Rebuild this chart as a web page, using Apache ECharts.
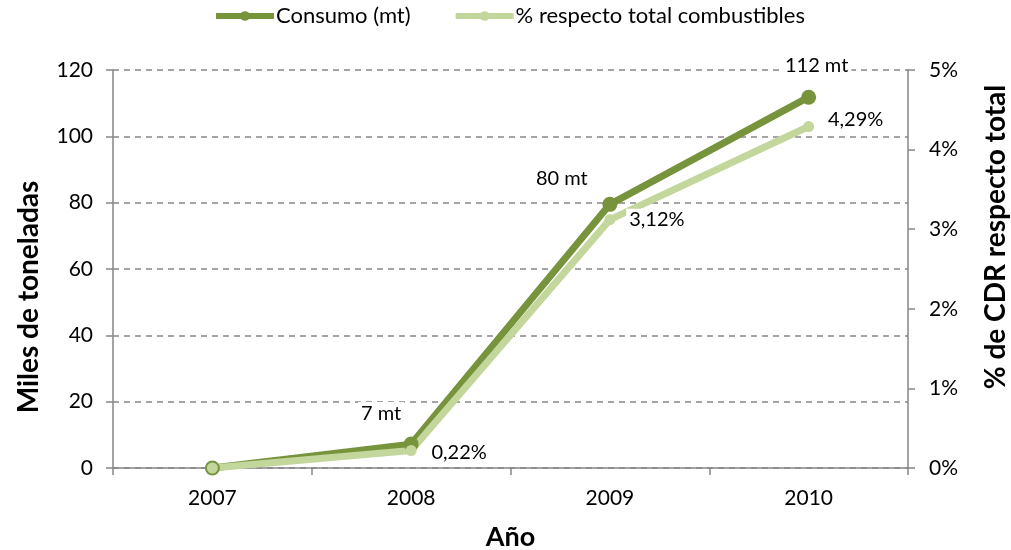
<!DOCTYPE html>
<html>
<head>
<meta charset="utf-8">
<script src="https://cdn.jsdelivr.net/npm/echarts@6/dist/echarts.min.js"></script>
<style>html,body{margin:0;padding:0;background:#fff;overflow:hidden}#c{width:1011px;height:550px}</style>
</head>
<body>
<div id="c"></div>
<script>
const categories = ['2007', '2008', '2009', '2010'];
const consumo = [0, 7.2, 79.5, 111.8];
const consumoLabels = ['', '7 mt', '80 mt', '112 mt'];
const porcentaje = [0, 0.22, 3.12, 4.29];
const porcentajeLabels = ['', '0,22%', '3,12%', '4,29%'];
const leftTicks = [0, 20, 40, 60, 80, 100, 120];
const rightTicks = ['0%', '1%', '2%', '3%', '4%', '5%'];

const FONT = 'Lato';
const DARK = '#77933C';
const LIGHT = '#C3D69B';
const consumoOffsets = [[0, 0], [-30, -31], [-48, -26], [8, -32]];
const pctOffsets = [[0, 0], [48, 2], [47, 0], [47, -7]];

const labelBase = {
  show: true, position: 'inside', color: '#000', fontFamily: FONT, fontSize: 20,
  backgroundColor: '#fff', padding: [1, 3]
};

const chart = echarts.init(document.getElementById('c'), null, {renderer: 'canvas'});
chart.setOption({
  animation: false,
  textStyle: {fontFamily: FONT},
  legend: {
    top: 5, left: 213, padding: 0, itemWidth: 58, itemHeight: 12, itemGap: 42,
    lineStyle: {width: 6},
    textStyle: {fontFamily: FONT, fontSize: 22, color: '#000', padding: [0, 0, 0, -3]},
    data: ['Consumo (mt)', '% respecto total combustibles']
  },
  grid: {left: 113, right: 103, top: 70, bottom: 82, containLabel: false, outerBoundsMode: 'none'},
  xAxis: {
    type: 'category', data: categories, boundaryGap: true,
    name: 'Año', nameLocation: 'middle', nameGap: 56,
    nameTextStyle: {fontFamily: FONT, fontSize: 27, fontWeight: 'bold', color: '#000'},
    axisLine: {lineStyle: {color: '#868686', width: 1.5}},
    axisTick: {show: true, length: 7, lineStyle: {color: '#868686', width: 1.5}},
    axisLabel: {color: '#000', fontFamily: FONT, fontSize: 21, margin: 20}
  },
  yAxis: [{
    type: 'value', min: 0, max: 120, interval: 20,
    axisLine: {show: true, lineStyle: {color: '#868686', width: 1.5}},
    axisTick: {show: true, length: 7, lineStyle: {color: '#868686', width: 1.5}},
    axisLabel: {color: '#000', fontFamily: FONT, fontSize: 21, margin: 20,
      formatter: v => leftTicks.includes(v) ? String(v) : ''},
    splitLine: {show: true, lineStyle: {color: '#868686', type: [6, 5], width: 1.5}}
  }, {
    type: 'value', min: 0, max: 5, interval: 1, position: 'right',
    axisLine: {show: true, lineStyle: {color: '#868686', width: 1.5}},
    axisTick: {show: true, length: 7, lineStyle: {color: '#868686', width: 1.5}},
    axisLabel: {color: '#000', fontFamily: FONT, fontSize: 21, margin: 21,
      formatter: v => rightTicks[Math.round(v)] || ''},
    splitLine: {show: false}
  }],
  graphic: [{
    type: 'text', x: 29, y: 297, rotation: Math.PI / 2,
    style: {text: 'Miles de toneladas', fontFamily: FONT, fontSize: 28, fontWeight: 'bold',
      fill: '#000', align: 'center', verticalAlign: 'middle'}
  }, {
    type: 'text', x: 996, y: 237, rotation: Math.PI / 2,
    style: {text: '% de CDR respecto total', fontFamily: FONT, fontSize: 28, fontWeight: 'bold',
      fill: '#000', align: 'center', verticalAlign: 'middle'}
  }],
  series: [{
    name: 'Consumo (mt)', type: 'line', yAxisIndex: 0,
    symbol: 'circle', symbolSize: 15, showAllSymbol: true,
    itemStyle: {color: DARK},
    lineStyle: {color: DARK, width: 7},
    data: consumo.map((v, i) => ({
      value: v,
      label: Object.assign({}, labelBase, {show: !!consumoLabels[i], offset: consumoOffsets[i],
        formatter: () => consumoLabels[i]})
    }))
  }, {
    name: '% respecto total combustibles', type: 'line', yAxisIndex: 1,
    symbol: 'circle', symbolSize: 11, showAllSymbol: true,
    itemStyle: {color: LIGHT},
    lineStyle: {color: LIGHT, width: 7},
    data: porcentaje.map((v, i) => ({
      value: v,
      label: Object.assign({}, labelBase, {show: !!porcentajeLabels[i], offset: pctOffsets[i],
        formatter: () => porcentajeLabels[i]})
    }))
  }]
});
</script>
</body>
</html>
